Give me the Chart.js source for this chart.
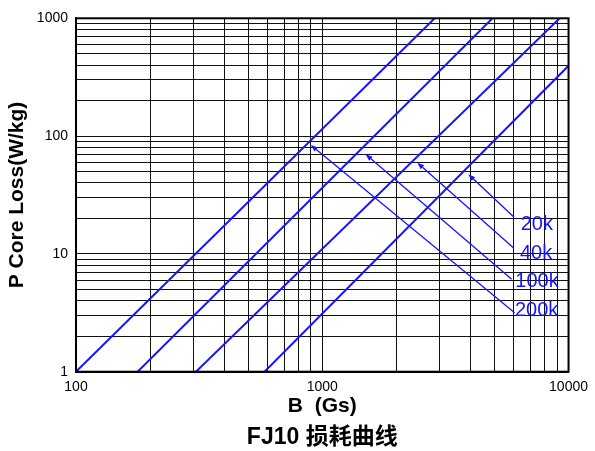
<!DOCTYPE html>
<html><head><meta charset="utf-8">
<script src="https://cdn.jsdelivr.net/npm/chart.js@4.4.1/dist/chart.umd.min.js"></script>
<style>html,body{margin:0;padding:0;background:#fff}#wrap{width:595px;height:451px;position:relative}</style>
</head><body><div id="wrap"><canvas id="c"></canvas></div>
<script>
// ---- data ----
const seriesNames = ['200k', '100k', '40k', '20k'];
const freq200kB = [100, 2860];  const freq200kP = [1, 1000];
const freq100kB = [178, 4910];  const freq100kP = [1, 1000];
const freq40kB  = [307, 9200];  const freq40kP  = [1, 1000];
const freq20kB  = [583, 10000]; const freq20kP  = [1, 396];

const xTickLabels = [100, 1000, 10000];
const yTickLabels = [1, 10, 100, 1000];

// annotation arrows (data space): label, arrow tip, arrow tail, label anchor
const arrowLabels = ['20k', '40k', '100k', '200k'];
const arrowTipB  = [3919, 2431, 1499, 899];
const arrowTipP  = [47.4, 59.5, 70.1, 84.0];
const arrowTailB = [6010, 5970, 5876, 6042];
const arrowTailP = [20.45, 11.29, 6.09, 3.17];
const labelB = [6390, 6350, 6080, 6060];
const labelP = [15.95, 9.00, 5.27, 2.97];

// ---- helpers ----
const seriesB = [freq200kB, freq100kB, freq40kB, freq20kB];
const seriesP = [freq200kP, freq100kP, freq40kP, freq20kP];
function logGrid(min, max) {
  const out = [];
  for (let d = min; d < max; d *= 10) for (let m = 1; m < 10; m++) out.push(d * m);
  out.push(max);
  return out;
}
const BLUE = '#1414ff';
const FONT = "'Liberation Sans', Arial, 'Noto Sans CJK SC', sans-serif";

const frame = {
  id: 'frame',
  afterDraw(chart) {
    const a = chart.chartArea, ctx = chart.ctx;
    ctx.save();
    ctx.strokeStyle = '#000';
    ctx.lineWidth = 2;
    ctx.strokeRect(a.left, a.top, a.right - a.left, a.bottom - a.top);
    ctx.restore();
  }
};

const arrows = {
  id: 'arrows',
  afterDatasetsDraw(chart) {
    const xs = chart.scales.x, ys = chart.scales.y, ctx = chart.ctx;
    ctx.save();
    ctx.strokeStyle = BLUE; ctx.fillStyle = BLUE;
    for (let i = 0; i < arrowLabels.length; i++) {
      const tx = xs.getPixelForValue(arrowTipB[i]), ty = ys.getPixelForValue(arrowTipP[i]);
      const sx = xs.getPixelForValue(arrowTailB[i]), sy = ys.getPixelForValue(arrowTailP[i]);
      const ang = Math.atan2(ty - sy, tx - sx);
      const L = 7, W = 2.6;
      const bx = tx - L * Math.cos(ang), by = ty - L * Math.sin(ang);
      ctx.lineWidth = 1.3;
      ctx.beginPath(); ctx.moveTo(sx, sy); ctx.lineTo(bx, by); ctx.stroke();
      ctx.beginPath();
      ctx.moveTo(tx, ty);
      ctx.lineTo(bx + W * Math.sin(ang), by - W * Math.cos(ang));
      ctx.lineTo(bx - W * Math.sin(ang), by + W * Math.cos(ang));
      ctx.closePath(); ctx.fill();
      ctx.font = '20px ' + FONT;
      ctx.textAlign = 'left'; ctx.textBaseline = 'alphabetic';
      ctx.fillText(arrowLabels[i], xs.getPixelForValue(labelB[i]), ys.getPixelForValue(labelP[i]));
    }
    ctx.restore();
  }
};

new Chart(document.getElementById('c'), {
  type: 'scatter',
  data: {
    datasets: seriesNames.map((n, i) => ({
      label: n,
      data: seriesB[i].map((b, j) => ({ x: b, y: seriesP[i][j] })),
      showLine: true,
      borderColor: BLUE,
      backgroundColor: BLUE,
      borderWidth: 2,
      pointRadius: 0,
      tension: 0
    }))
  },
  options: {
    responsive: true,
    maintainAspectRatio: false,
    animation: false,
    layout: { padding: { top: 18.3, right: 23.5, left: 0, bottom: 0 } },
    plugins: {
      legend: { display: false },
      tooltip: { enabled: false },
      title: {
        display: true,
        position: 'bottom',
        fullSize: false,
        text: 'FJ10 损耗曲线',
        color: '#000',
        font: { family: FONT, size: 23, weight: 'bold' },
        padding: { top: 0, bottom: 0 }
      }
    },
    scales: {
      x: {
        type: 'logarithmic',
        min: 100, max: 10000,
        afterBuildTicks: s => { s.ticks = logGrid(100, 10000).map(v => ({ value: v })); },
        afterFit: s => { s.height = 51.7; },
        ticks: {
          autoSkip: false, maxRotation: 0, padding: 7,
          color: '#000',
          font: { family: FONT, size: 14 },
          callback: v => xTickLabels.includes(v) ? String(v) : ''
        },
        grid: { color: '#111', lineWidth: 1, drawTicks: false },
        border: { display: true, color: '#000', width: 2 },
        title: {
          display: true, text: 'B  (Gs)', color: '#000',
          font: { family: FONT, size: 21, weight: 'bold' },
          padding: { top: 0, bottom: 5 }
        }
      },
      y: {
        type: 'logarithmic',
        min: 1, max: 1000,
        afterBuildTicks: s => { s.ticks = logGrid(1, 1000).map(v => ({ value: v })); },
        afterFit: s => { s.width = 76; },
        ticks: {
          autoSkip: false, padding: 8,
          color: '#000',
          font: { family: FONT, size: 14 },
          callback: v => yTickLabels.includes(v) ? String(v) : ''
        },
        grid: { color: '#111', lineWidth: 1, drawTicks: false },
        border: { display: true, color: '#000', width: 2 },
        title: {
          display: true, text: 'P Core Loss(W/kg)', color: '#000',
          font: { family: FONT, size: 21, weight: 'bold' },
          padding: { top: 4.4, bottom: 0 }
        }
      }
    }
  },
  plugins: [frame, arrows]
});
</script>
</body></html>
